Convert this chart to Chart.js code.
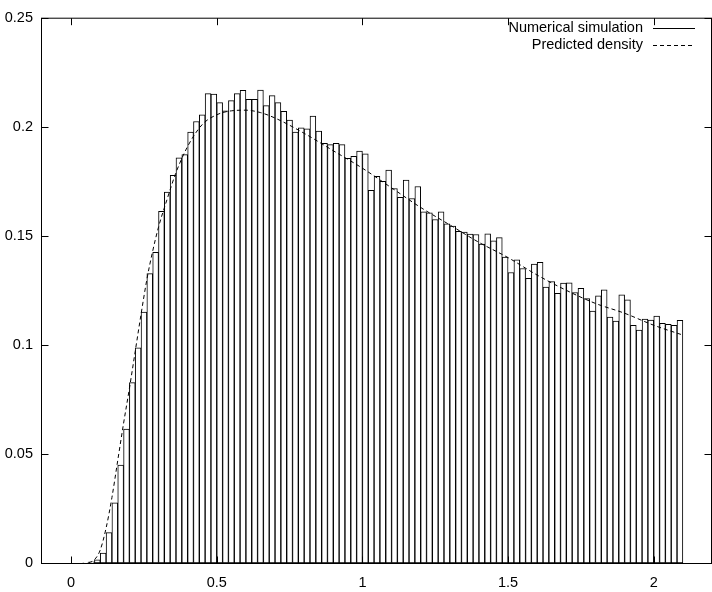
<!DOCTYPE html>
<html><head><meta charset="utf-8">
<script src="https://cdn.jsdelivr.net/npm/chart.js@4/dist/chart.umd.min.js"></script>
<style>html,body{margin:0;padding:0;background:#fff}#wrap{width:712px;height:592px;position:relative}</style>
</head><body><div id="wrap"><canvas id="c" width="712" height="592"></canvas></div>
<script>
// ---- data ----
const binStart = 0.0;
const binWidth = 0.02;
const simulationValues = [
  0, 0, 0.0001, 0.0005, 0.0014, 0.0046, 0.0139, 0.0276, 0.0449, 0.0614,
  0.0827, 0.0986, 0.1150, 0.1327, 0.1424, 0.1612, 0.1701, 0.1777, 0.1857, 0.1872,
  0.1976, 0.2024, 0.2055, 0.2152, 0.2150, 0.2111, 0.2073, 0.2120, 0.2152, 0.2167,
  0.2126, 0.2126, 0.2168, 0.2097, 0.2143, 0.2111, 0.2071, 0.2031, 0.1976, 0.1995,
  0.1991, 0.2049, 0.1980, 0.1924, 0.1918, 0.1924, 0.1918, 0.1855, 0.1865, 0.1888,
  0.1876, 0.1709, 0.1773, 0.1750, 0.1801, 0.1717, 0.1676, 0.1756, 0.1671, 0.1726,
  0.1610, 0.1605, 0.1575, 0.1610, 0.1555, 0.1545, 0.1521, 0.1517, 0.1508, 0.1506,
  0.1462, 0.1509, 0.1477, 0.1492, 0.1403, 0.1332, 0.1390, 0.1350, 0.1305, 0.1371,
  0.1379, 0.1265, 0.1290, 0.1236, 0.1283, 0.1285, 0.1240, 0.1259, 0.1212, 0.1155,
  0.1225, 0.1252, 0.1127, 0.1109, 0.1229, 0.1206, 0.1090, 0.1068, 0.1118, 0.1114,
  0.1132, 0.1099, 0.1094, 0.1090, 0.1112
];
const densityX = [0.06, 0.08, 0.10, 0.12, 0.14, 0.16, 0.18, 0.20, 0.22, 0.24, 0.26, 0.28, 0.30, 0.33, 0.36, 0.40, 0.45, 0.50, 0.55, 0.60, 0.65, 0.70, 0.80, 0.90, 1.00, 1.10, 1.20, 1.30, 1.40, 1.50, 1.60, 1.70, 1.80, 1.90, 2.00, 2.10];
const densityY = [0, 0.0015, 0.006, 0.016, 0.030, 0.047, 0.064, 0.080, 0.097, 0.114, 0.130, 0.143, 0.154, 0.167, 0.179, 0.191, 0.201, 0.2055, 0.2073, 0.2076, 0.2065, 0.204, 0.197, 0.189, 0.181, 0.172, 0.163, 0.155, 0.147, 0.140, 0.132, 0.125, 0.119, 0.1145, 0.109, 0.1045];
const xTickValues = [0, 0.5, 1, 1.5, 2];
const xTickLabels = ["0", "0.5", "1", "1.5", "2"];
const yTickValues = [0, 0.05, 0.1, 0.15, 0.2, 0.25];
const yTickLabels = ["0", "0.05", "0.1", "0.15", "0.2", "0.25"];
const seriesNames = ["Numerical simulation", "Predicted density"];

// ---- build ----
const FONT = "'Liberation Sans', Arial, Helvetica, sans-serif";
const barPoints = simulationValues.map((v, i) => ({x: binStart + binWidth * (i + 0.5), y: v}));
const densityPoints = densityX.map((x, i) => ({x: x, y: densityY[i]}));

const framePlugin = {
  id: 'frame',
  afterDraw(chart) {
    const {ctx, chartArea: a, scales: {x, y}} = chart;
    ctx.save();
    ctx.strokeStyle = '#000';
    ctx.lineWidth = 1;
    ctx.setLineDash([]);
    const l = a.left - 0.5, r = a.right - 0.5, t = a.top + 0.5, b = a.bottom + 0.5;
    ctx.strokeRect(l, t, r - l, b - t);
    ctx.beginPath();
    const L = 7;
    x.ticks.forEach(tk => {
      const px = Math.round(x.getPixelForValue(tk.value)) + 0.5;
      ctx.moveTo(px, b); ctx.lineTo(px, b - L);
      ctx.moveTo(px, t); ctx.lineTo(px, t + L);
    });
    y.ticks.forEach(tk => {
      const py = Math.round(y.getPixelForValue(tk.value)) + 0.5;
      ctx.moveTo(l, py); ctx.lineTo(l + L, py);
      ctx.moveTo(r, py); ctx.lineTo(r - L, py);
    });
    ctx.stroke();
    // legend (top right, inside plot)
    ctx.font = '14.5px ' + FONT;
    ctx.fillStyle = '#000';
    ctx.textAlign = 'right';
    ctx.textBaseline = 'middle';
    const rows = [28, 45];
    chart.data.datasets.forEach((ds, i) => {
      const yy = rows[i];
      ctx.fillText(ds.label, 643, yy);
      ctx.beginPath();
      ctx.setLineDash(i === 0 ? [] : [4, 3]);
      ctx.moveTo(653, yy + 0.5); ctx.lineTo(695, yy + 0.5);
      ctx.stroke();
    });
    ctx.restore();
  }
};

new Chart(document.getElementById('c'), {
  data: {
    datasets: [
      {
        type: 'bar', label: seriesNames[0], data: barPoints,
        backgroundColor: '#fff', borderColor: '#000', borderWidth: 1,
        borderSkipped: false, barPercentage: 1, categoryPercentage: 1, grouped: false, order: 2
      },
      {
        type: 'line', label: seriesNames[1], data: densityPoints,
        borderColor: '#000', borderWidth: 1, borderDash: [4, 3], pointRadius: 0,
        cubicInterpolationMode: 'monotone', fill: false, order: 1
      }
    ]
  },
  options: {
    responsive: false, animation: false, devicePixelRatio: 1,
    layout: {padding: {top: 13, right: 0, left: 0, bottom: 0}},
    plugins: {legend: {display: false}, tooltip: {enabled: false}},
    scales: {
      x: {
        type: 'linear', min: -0.1, max: 2.2, offset: false,
        grid: {display: false, drawTicks: false}, border: {display: false},
        afterBuildTicks: s => { s.ticks = xTickValues.map(v => ({value: v})); },
        afterFit: s => { s.height = 29; },
        ticks: {
          padding: 11, color: '#000', font: {family: FONT, size: 14.5},
          maxRotation: 0, autoSkip: false,
          callback: v => { const i = xTickValues.indexOf(v); return i >= 0 ? xTickLabels[i] : ''; }
        }
      },
      y: {
        type: 'linear', min: 0, max: 0.25,
        grid: {display: false, drawTicks: false}, border: {display: false},
        afterBuildTicks: s => { s.ticks = yTickValues.map(v => ({value: v})); },
        afterFit: s => { s.width = 42; },
        ticks: {
          padding: 9, color: '#000', font: {family: FONT, size: 14.5},
          callback: v => { const i = yTickValues.indexOf(v); return i >= 0 ? yTickLabels[i] : ''; }
        }
      }
    }
  },
  plugins: [framePlugin]
});
</script>
</body></html>
